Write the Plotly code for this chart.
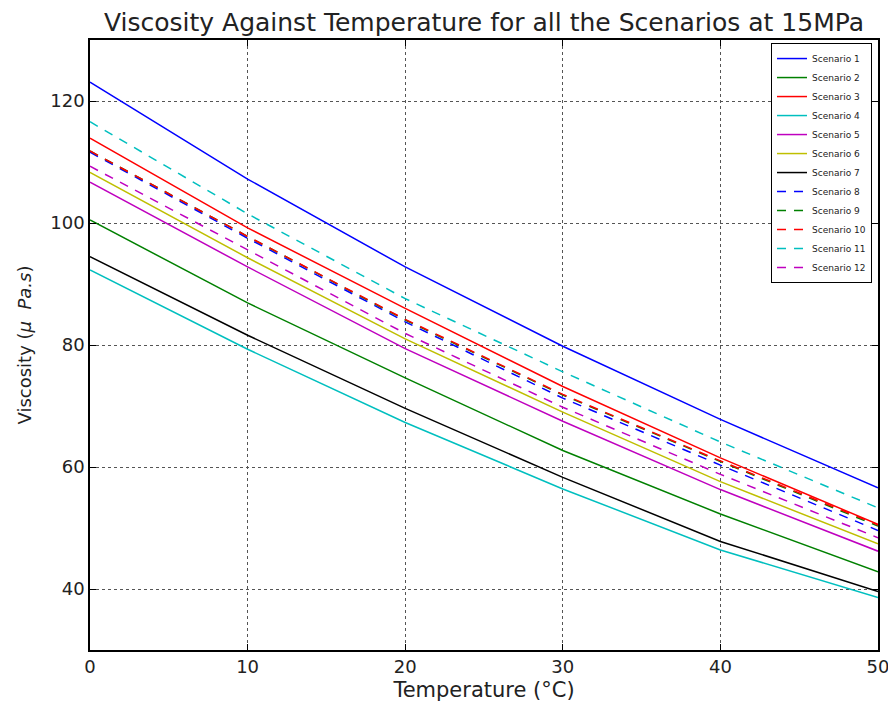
import plotly.graph_objects as go

temperature = [0, 10, 20, 30, 40, 50]

scenario_names = [f"Scenario {i}" for i in range(1, 13)]

s1 = [123.1, 107.2, 92.8, 79.8, 67.8, 56.6]
s2 = [100.5, 86.9, 74.6, 62.7, 52.3, 42.8]
s3 = [113.9, 99.2, 86.0, 73.2, 61.5, 50.6]
s4 = [92.3, 79.3, 67.3, 56.4, 46.4, 38.6]
s5 = [106.7, 92.8, 79.4, 67.5, 56.3, 46.2]
s6 = [108.3, 94.3, 81.0, 69.0, 57.6, 47.4]
s7 = [94.5, 81.6, 69.6, 58.3, 47.8, 39.6]
s8 = [111.6, 97.5, 83.8, 71.3, 60.3, 49.6]
s9 = [111.8, 97.8, 84.1, 71.8, 60.9, 50.3]
s10 = [111.8, 97.8, 84.2, 71.9, 61.0, 50.5]
s11 = [116.6, 101.5, 87.6, 75.6, 64.1, 53.3]
s12 = [109.3, 95.6, 81.9, 69.8, 58.8, 48.4]

series = [s1, s2, s3, s4, s5, s6, s7, s8, s9, s10, s11, s12]

colors = ["#0000ff", "#008000", "#ff0000", "#00bfbf", "#bf00bf", "#bfbf00", "#000000",
          "#0000ff", "#008000", "#ff0000", "#00bfbf", "#bf00bf"]
dashes = ["solid"] * 7 + ["9px,8px"] * 5

x_ticks = [0, 10, 20, 30, 40, 50]
y_ticks = [40, 60, 80, 100, 120]

fig = go.Figure()
for name, vals, c, d in zip(scenario_names, series, colors, dashes):
    fig.add_trace(go.Scatter(x=temperature, y=vals, mode="lines", name=name,
                             line=dict(color=c, width=1.5, dash=d)))

axis_common = dict(
    showline=True, linecolor="black", linewidth=1.5, mirror="ticks",
    ticks="inside", ticklen=6, tickcolor="black",
    showgrid=True, gridcolor="#555555", griddash="dot", gridwidth=1,
    zeroline=False, tickfont=dict(size=18, color="#222222"),
    automargin=False,
)

# page body has an 8px margin; compensate so the plot area lands where the reference's does
fig.update_layout(
    width=888, height=698,
    margin=dict(l=82, r=18, t=32, b=56),
    paper_bgcolor="white", plot_bgcolor="white",
    font=dict(family="DejaVu Sans", color="#222222"),
    title=dict(text="Viscosity Against Temperature for all the Scenarios at 15MPa",
               xref="paper", x=0.5, xanchor="center",
               yref="container", y=0.98, yanchor="middle",
               font=dict(size=25, color="#222222")),
    xaxis=dict(range=[0, 50], tickvals=x_ticks,
               title=dict(text="Temperature (°C)", font=dict(size=21), standoff=6),
               **axis_common),
    yaxis=dict(range=[30, 130], tickvals=y_ticks,
               title=dict(text="Viscosity (<i>μ</i>  <i>Pa.s</i>)", font=dict(size=18), standoff=14),
               **axis_common),
    legend=dict(x=0.9924, y=0.995, xanchor="right", yanchor="top",
                bgcolor="white", bordercolor="black", borderwidth=1,
                font=dict(size=9, color="#222222"), itemwidth=30, tracegroupgap=0),
    showlegend=True,
)

fig.write_html("out.html")
